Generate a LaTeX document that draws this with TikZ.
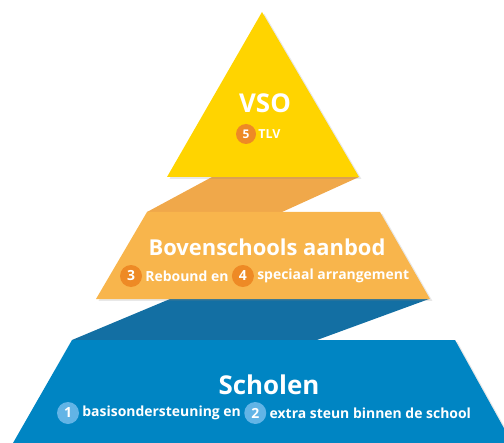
\documentclass[tikz,border=0pt]{standalone}
\usepackage{fontspec}
\setmainfont{Open Sans}
\usetikzlibrary{shadows,positioning}
\definecolor{vyellow}{HTML}{FFD400}
\definecolor{oband}{HTML}{F0A84A}
\definecolor{otrap}{HTML}{F8B54C}
\definecolor{bband}{HTML}{136FA3}
\definecolor{btrap}{HTML}{0085C3}
\definecolor{onum}{HTML}{EE8A25}
\definecolor{bnum}{HTML}{62B4E6}
\tikzset{
  lvlshadow/.style={drop shadow={opacity=0.18,shadow xshift=2.5pt,shadow yshift=-2pt}},
  numc/.style={circle,fill=#1,inner sep=0pt,minimum size=22bp,text=white,font=\fontsize{14}{14}\selectfont\bfseries},
  sub/.style={text=white,inner sep=0pt,font=\fontsize{14}{14}\selectfont\bfseries},
  title/.style={text=white,inner sep=0pt,font=\fontsize{#1}{#1}\selectfont\bfseries},
}
\begin{document}
\begin{tikzpicture}[x=1bp,y=-1bp]
\useasboundingbox (0,0) rectangle (504,443);
\clip (0,0) rectangle (504,443);
% connecting bands
\fill[oband] (212,177) -- (359,177) -- (282,212) -- (147,212) -- cycle;
\fill[bband] (170,299) -- (429,299) -- (317,340) -- (72,340) -- cycle;
% levels
\fill[vyellow,lvlshadow] (262,12) -- (359,177) -- (167,177) -- cycle;
\fill[otrap,lvlshadow] (147,212) -- (380,212) -- (430,299) -- (96,299) -- cycle;
\fill[btrap,lvlshadow] (72,340) -- (455,340) -- (516,450) -- (9,450) -- cycle;
% texts
\node[title=26] (vso) at (265,103) {VSO};
\node[numc=onum,font=\fontsize{12}{12}\selectfont\bfseries,minimum size=20bp] (n5) at (246,134) {5};
\node[sub,font=\fontsize{12.5}{12.5}\selectfont\bfseries,right=2bp of n5] (tlv) {TLV};
\node[title=22] (bov) at (267,247) {Bovenschools aanbod};
\node[numc=onum] (n3) at (131,276) {3};
\node[sub,right=3bp of n3] (reb) {Rebound en};
\node[numc=onum,right=3bp of reb] (n4) {4};
\node[sub,right=3bp of n4] (spec) {speciaal arrangement};
\node[title=26] (sch) at (269,385) {Scholen};
\node[numc=bnum] (n1) at (68,413) {1};
\node[sub,right=3bp of n1] (bas) {basisondersteuning en};
\node[numc=bnum,right=3bp of bas] (n2) {2};
\node[sub,right=3bp of n2] (ext) {extra steun binnen de school};
\end{tikzpicture}
\end{document}
